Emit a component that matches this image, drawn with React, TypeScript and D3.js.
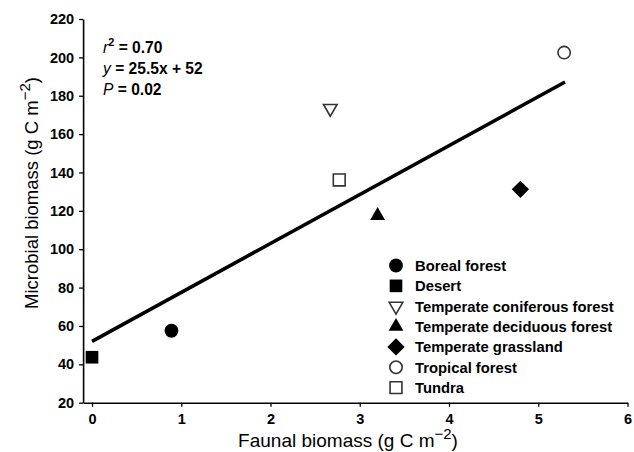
import React, { useEffect, useRef } from "react";
import * as d3 from "d3";

const categories = [
  "Boreal forest",
  "Desert",
  "Temperate coniferous forest",
  "Temperate deciduous forest",
  "Temperate grassland",
  "Tropical forest",
  "Tundra",
];
const faunalBiomass = [0.89, 0.0, 2.67, 3.2, 4.8, 5.29, 2.77];
const microbialBiomass = [57.5, 43.7, 173.4, 117.5, 131.2, 202.5, 136.1];
const markerKinds = ["circle", "square", "triangleDown", "triangleUp", "diamond", "openCircle", "openSquare"];
const xTicks = [0, 1, 2, 3, 4, 5, 6];
const yTicks = [20, 40, 60, 80, 100, 120, 140, 160, 180, 200, 220];
const fitSlope = 25.5;
const fitIntercept = 52;
const fitRange = [0, 5.3];

const W = 634;
const H = 452;
const FONT = "'Liberation Sans', Arial, Helvetica, sans-serif";

function drawMarker(g: any, kind: string, x: number, y: number) {
  const sym = d3.symbol();
  let path = "";
  let rot = 0;
  let fill = "#000";
  let stroke = "none";
  if (kind === "circle") path = sym.type(d3.symbolCircle).size(150)() as string;
  else if (kind === "square") path = sym.type(d3.symbolSquare).size(160)() as string;
  else if (kind === "triangleUp") path = sym.type(d3.symbolTriangle).size(95)() as string;
  else if (kind === "triangleDown") {
    path = sym.type(d3.symbolTriangle).size(80)() as string;
    rot = 180;
    fill = "#fff";
    stroke = "#333";
  } else if (kind === "diamond") {
    path = sym.type(d3.symbolSquare).size(150)() as string;
    rot = 45;
  } else if (kind === "openCircle") {
    path = sym.type(d3.symbolCircle).size(120)() as string;
    fill = "#fff";
    stroke = "#333";
  } else if (kind === "openSquare") {
    path = sym.type(d3.symbolSquare).size(140)() as string;
    fill = "#fff";
    stroke = "#333";
  }
  g.append("path")
    .attr("d", path)
    .attr("transform", `translate(${x},${y}) rotate(${rot})`)
    .attr("fill", fill)
    .attr("stroke", stroke)
    .attr("stroke-width", 1.6);
}

export default function App() {
  const ref = useRef<SVGSVGElement>(null);
  useEffect(() => {
    const svg = d3.select(ref.current!);
    svg.selectAll("*").remove();
    const x = d3.scaleLinear().domain([-0.1, 6]).range([83.1, 627.5]);
    const y = d3.scaleLinear().domain([20, 220]).range([402.7, 19]);

    const root = svg.append("g");

    // y axis
    const ya = root
      .append("g")
      .attr("transform", `translate(${x(-0.1)},0)`)
      .call(
        d3.axisLeft(y).tickValues(yTicks).tickFormat(d3.format("d")).tickSize(4).tickSizeOuter(0).tickPadding(5)
      );
    ya.select(".domain").attr("stroke", "#000").attr("stroke-width", 1.6);
    ya.selectAll(".tick line").attr("stroke", "#000").attr("stroke-width", 1.3);
    ya.selectAll("text")
      .attr("font-family", FONT)
      .attr("font-size", 14.5)
      .attr("font-weight", "bold")
      .attr("fill", "#000");

    // x axis
    const xa = root
      .append("g")
      .attr("transform", `translate(0,${y(20)})`)
      .call(
        d3.axisBottom(x).tickValues(xTicks).tickFormat(d3.format("d")).tickSize(4).tickSizeOuter(0).tickPadding(7)
      );
    xa.select(".domain").attr("stroke", "#000").attr("stroke-width", 1.6);
    xa.selectAll(".tick line").attr("stroke", "#000").attr("stroke-width", 1.3);
    xa.selectAll("text")
      .attr("font-family", FONT)
      .attr("font-size", 14.5)
      .attr("font-weight", "bold")
      .attr("fill", "#000");

    // regression line
    const line = d3
      .line<number>()
      .x((d) => x(d))
      .y((d) => y(fitSlope * d + fitIntercept));
    root
      .append("path")
      .attr("d", line(fitRange) as string)
      .attr("stroke", "#000")
      .attr("stroke-width", 3.6)
      .attr("fill", "none");

    // points
    const pts = root.append("g");
    categories.forEach((c, i) => {
      drawMarker(pts, markerKinds[i], x(faunalBiomass[i]), y(microbialBiomass[i]));
    });

    // legend
    const lg = root.append("g");
    categories.forEach((c, i) => {
      const cy = 265.5 + i * 20.35;
      drawMarker(lg, markerKinds[i], 396, cy);
      lg.append("text")
        .attr("x", 415)
        .attr("y", cy + 5.3)
        .attr("font-family", FONT)
        .attr("font-size", 14.8)
        .attr("font-weight", "bold")
        .attr("fill", "#000")
        .text(c);
    });

    // annotation
    const ann = root
      .append("g")
      .attr("font-family", FONT)
      .attr("font-size", 15.6)
      .attr("font-weight", "bold")
      .attr("fill", "#000");
    const t1 = ann.append("text").attr("x", 103).attr("y", 53);
    t1.append("tspan").attr("font-style", "italic").attr("font-weight", "normal").text("r");
    t1.append("tspan").attr("dy", -7).attr("font-size", 11).text("2");
    t1.append("tspan").attr("dy", 7).text(" = 0.70");
    const t2 = ann.append("text").attr("x", 103).attr("y", 74);
    t2.append("tspan").attr("font-style", "italic").attr("font-weight", "normal").text("y");
    t2.append("tspan").text(" = 25.5x + 52");
    const t3 = ann.append("text").attr("x", 103).attr("y", 95);
    t3.append("tspan").attr("font-style", "italic").attr("font-weight", "normal").text("P");
    t3.append("tspan").text(" = 0.02");

    // axis titles
    const xt = root
      .append("text")
      .attr("x", 348)
      .attr("y", 447)
      .attr("text-anchor", "middle")
      .attr("font-family", FONT)
      .attr("font-size", 19)
      .attr("fill", "#000");
    xt.append("tspan").text("Faunal biomass (g C m");
    xt.append("tspan").attr("dy", -8).attr("font-size", 15).text("\u22122");
    xt.append("tspan").attr("dy", 8).text(")");

    const yt = root
      .append("text")
      .attr("transform", `translate(38,193) rotate(-90)`)
      .attr("text-anchor", "middle")
      .attr("font-family", FONT)
      .attr("font-size", 18.5)
      .attr("fill", "#000");
    yt.append("tspan").text("Microbial biomass (g C m");
    yt.append("tspan").attr("dy", -8).attr("font-size", 15).text("\u22122");
    yt.append("tspan").attr("dy", 8).text(")");
  }, []);
  return (
    <svg
      ref={ref}
      width={W}
      height={H}
      style={{ position: "absolute", left: 0, top: 0, background: "#fff" }}
    />
  );
}
